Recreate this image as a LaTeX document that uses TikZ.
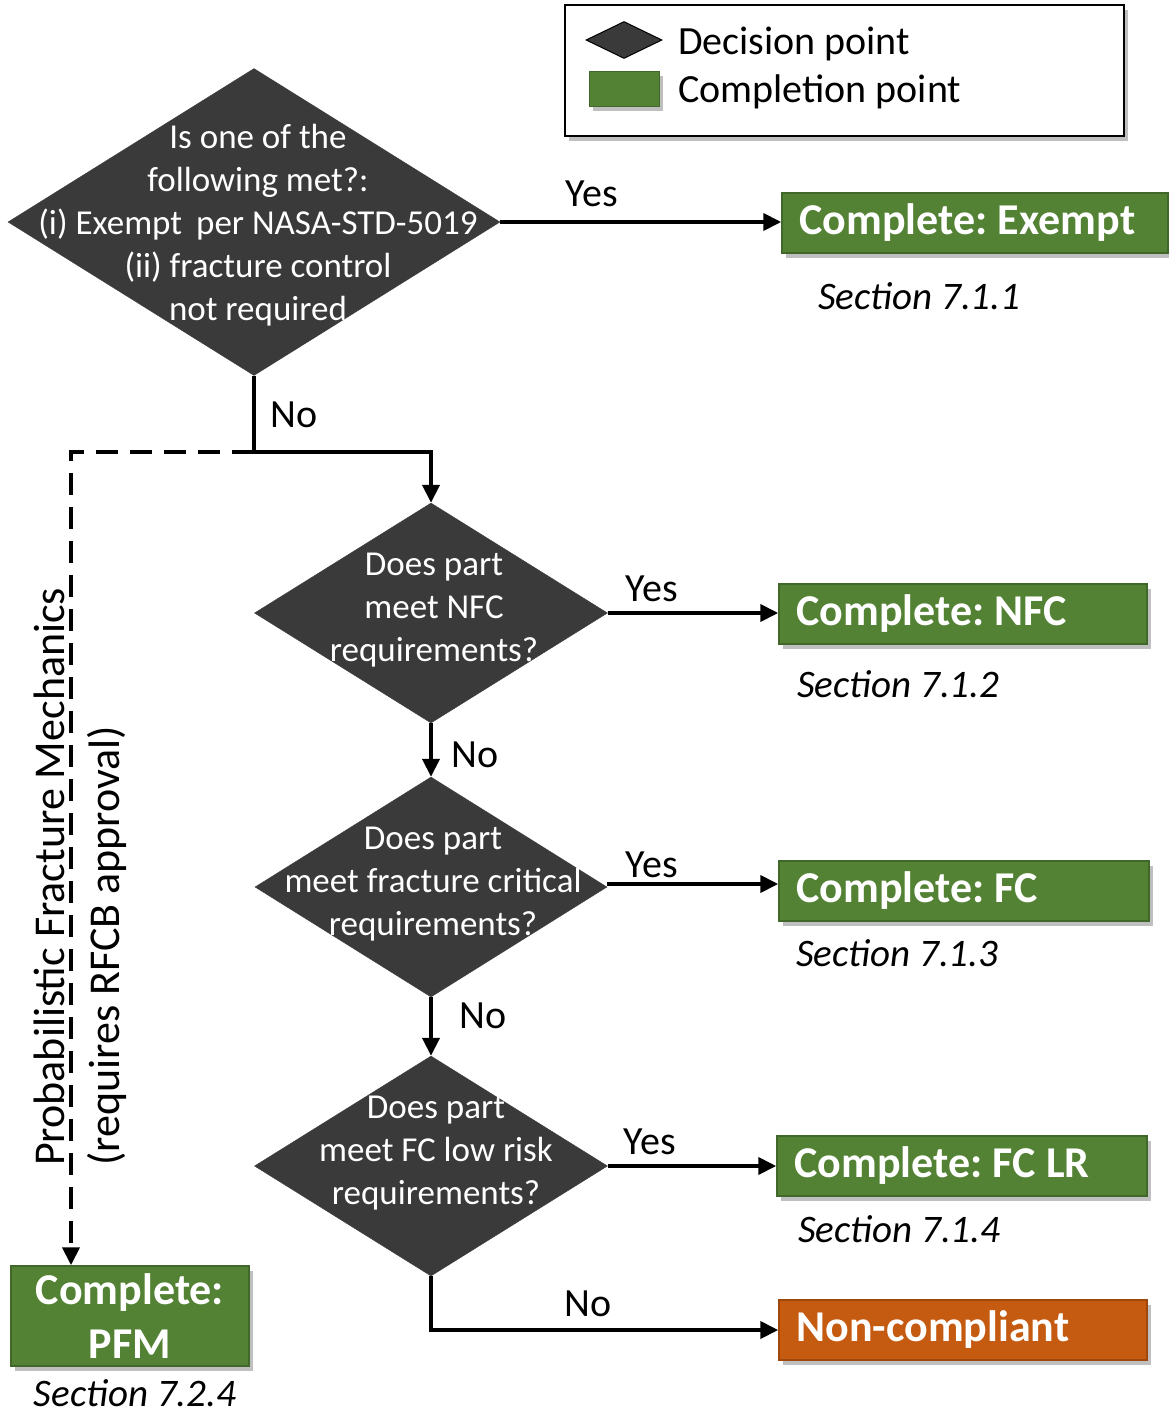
\documentclass[tikz,border=0pt]{standalone}
\usepackage{fontspec}
\setmainfont{Carlito}
\usetikzlibrary{arrows.meta,shapes.geometric,shadows,calc}

\definecolor{dgray}{HTML}{3A3A3A}
\definecolor{cgreen}{HTML}{548235}
\definecolor{cgreenline}{HTML}{41672A}
\definecolor{corange}{HTML}{C55A11}
\definecolor{corangeline}{HTML}{A0470C}

\newcommand\dqfont{\fontsize{35}{43}\selectfont}
\newcommand\dbxfont{\fontsize{44}{54}\selectfont\bfseries}
\newcommand\dsecfont{\fontsize{39}{46}\selectfont\itshape}
\newcommand\dlblfont{\fontsize{40}{46}\selectfont}
\newcommand\dsidefont{\fontsize{44}{55}\selectfont}
% fixed word gap after the colon in the box titles
\newcommand\dgap{\hspace{0.24em}}

\tikzset{
  flow/.style={line width=4pt, -{Triangle[length=18pt,width=17pt]}},
  plainflow/.style={line width=4pt},
  pfmflow/.style={line width=4pt, dash pattern=on 22pt off 12pt, -{Triangle[length=18pt,width=17pt]}},
  decision/.style={diamond, fill=dgray, draw=dgray, inner sep=0pt},
  qtext/.style={text=white, align=center, inner sep=0pt, font=\dqfont},
  boxshadow/.style={drop shadow={shadow xshift=4pt, shadow yshift=-5pt, opacity=0.25, fill=black}},
  done/.style={rectangle, fill=cgreen, draw=cgreenline, line width=1.5pt, text=white,
    font=\dbxfont, minimum height=60pt, inner xsep=18pt, inner ysep=0pt, boxshadow},
  fail/.style={done, fill=corange, draw=corangeline},
  sect/.style={anchor=west, inner sep=0pt, font=\dsecfont},
  lbl/.style={inner sep=0pt, font=\dlblfont},
}

\begin{document}
\begin{tikzpicture}[x=1pt, y=-1pt]
\useasboundingbox (0,0) rectangle (1169,1416);

% legend
\node[draw=black, line width=2pt, fill=white, minimum width=559pt, minimum height=131pt,
      boxshadow] (legend) at (844.5,70.5) {};
\node[diamond, fill=dgray, draw=black, line width=1pt, inner sep=0pt,
      minimum width=76pt, minimum height=37pt] (legdec) at (624,40) {};
\node[rectangle, fill=cgreen, draw=cgreenline, line width=1pt, minimum width=70pt,
      minimum height=35pt, boxshadow] (legdone) at (624,88.5) {};
\node[anchor=west, inner sep=0pt, font=\dlblfont] (legdectxt) at (678,44) {Decision point};
\node[anchor=west, inner sep=0pt, font=\dlblfont] (legdonetxt) at (678,92) {Completion point};

% decision points
\node[decision, minimum width=492pt, minimum height=307pt] (d1) at (254,222) {};
\node[qtext] (d1txt) at (258,225) {Is one of the\\following met?:\\(i) Exempt\hspace{0.4em}per NASA-STD-5019\\(ii) fracture control\\not required};

\node[decision, minimum width=353pt, minimum height=220pt] (d2) at (431,613) {};
\node[qtext] (d2txt) at (434,610) {Does part\\meet NFC\\requirements?};

\node[decision, minimum width=352pt, minimum height=220pt] (d3) at (431,887) {};
\node[qtext] (d3txt) at (433,884) {Does part\\meet fracture critical\\requirements?};

\node[decision, minimum width=353pt, minimum height=220pt] (d4) at (431,1166) {};
\node[qtext] (d4txt) at (436,1153) {Does part\\meet FC low risk\\requirements?};

% completion points (title set flush left inside the box)
\node[done, minimum width=386pt] (ex) at (975,223) {};
\node[done, minimum width=368pt] (nfc) at (963,614) {};
\node[done, minimum width=370pt] (fc) at (964,891) {};
\node[done, minimum width=370pt] (fclr) at (962,1166) {};
\node[fail, minimum width=368pt] (nc) at (963,1330) {};
\node[done, align=center, minimum width=238pt, minimum height=100pt] (pfm) at (130,1316) {Complete:\\PFM};

\foreach \b/\t in {ex/Complete:\dgap Exempt, nfc/Complete:\dgap NFC, fc/Complete:\dgap FC,
                   fclr/Complete:\dgap FC LR, nc/Non-compliant}
  \node[anchor=west, inner sep=0pt, text=white, font=\dbxfont] (\b txt)
    at ([xshift=18pt]\b.west) {\t};

% section references
\node[sect] (s1) at (818,296) {Section 7.1.1};
\node[sect] (s2) at (797,684) {Section 7.1.2};
\node[sect] (s3) at (796,953) {Section 7.1.3};
\node[sect] (s4) at (798,1229) {Section 7.1.4};
\node[font=\dsecfont, inner sep=0pt] (s5) at (135,1393) {Section 7.2.4};

% connectors
\coordinate (j) at (254,452);
\draw[flow] (d1.east) -- (d1.east -| ex.west);
\draw[plainflow] (d1.south) -- (j);
\draw[flow] (j) -| (d2.north);
\draw[pfmflow] (j) -| ([xshift=-59pt]pfm.north);
\draw[flow] (d2.east) -- (d2.east -| nfc.west);
\draw[flow] (d2.south) -- (d3.north);
\draw[flow] ([yshift=3pt]d3.east) -- ([yshift=3pt]d3.east -| fc.west);
\draw[flow] (d3.south) -- (d4.north);
\draw[flow] (d4.east) -- (d4.east -| fclr.west);
\draw[flow] (d4.south) |- (nc.west);

% branch labels
\node[lbl] (y1) at (592,194) {Yes};
\node[lbl] (n1) at (294,415) {No};
\node[lbl] (y2) at (652,589) {Yes};
\node[lbl] (n2) at (475,755) {No};
\node[lbl] (y3) at (652,865) {Yes};
\node[lbl] (n3) at (483,1016) {No};
\node[lbl] (y4) at (650,1142) {Yes};
\node[lbl] (n4) at (588,1304) {No};

% side note on the probabilistic path
\node[rotate=90, align=left, inner sep=0pt, font=\dsidefont, anchor=south west] (side)
  at (127,1166) {Probabilistic Fracture Mechanics\\(requires RFCB approval)};
\end{tikzpicture}
\end{document}
